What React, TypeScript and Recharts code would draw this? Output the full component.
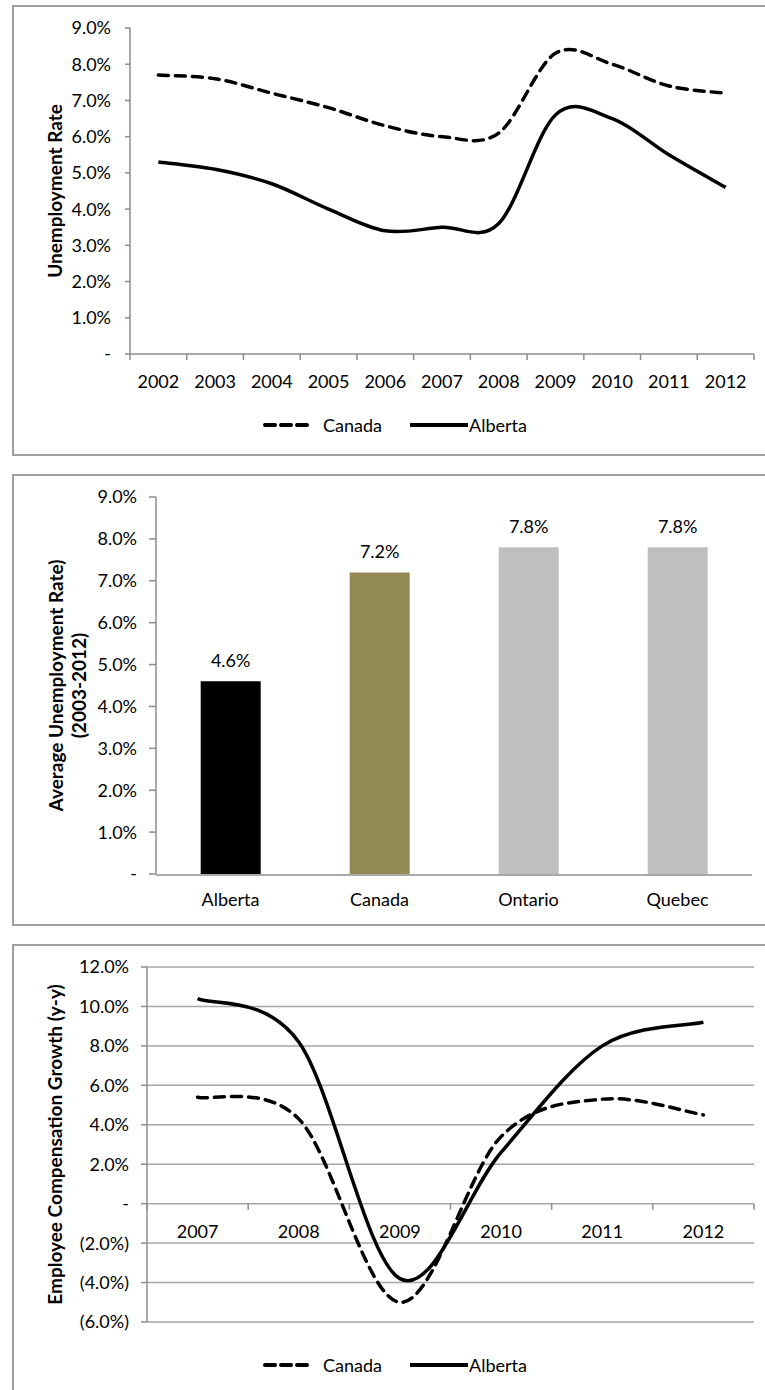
import React from 'react'
import {
  LineChart, Line, BarChart, Bar, Cell, XAxis, YAxis, CartesianGrid, Legend, LabelList, Label,
} from 'recharts'

const FONT = 'Lato, "Open Sans", sans-serif'
const AXIS = '#8c8c8c'
const GRID = '#a6a6a6'
const BORDER = '#a0a0a0'

// chart 1: unemployment rate, 2002-2012
const YEARS_A = ['2002', '2003', '2004', '2005', '2006', '2007', '2008', '2009', '2010', '2011', '2012']
const CANADA_A = [7.7, 7.6, 7.2, 6.8, 6.3, 6.0, 6.1, 8.3, 8.0, 7.4, 7.2]
const ALBERTA_A = [5.3, 5.1, 4.7, 4.0, 3.4, 3.5, 3.6, 6.6, 6.5, 5.5, 4.6]
const RATE_TICKS = [0, 1, 2, 3, 4, 5, 6, 7, 8, 9]

// chart 2: average unemployment rate 2003-2012
const PROVINCES = ['Alberta', 'Canada', 'Ontario', 'Quebec']
const AVG_RATE = [4.6, 7.2, 7.8, 7.8]
const BAR_COLORS = ['#000000', '#948a54', '#bfbfbf', '#bfbfbf']

// chart 3: employee compensation growth (y-y), 2007-2012
const YEARS_C = ['2007', '2008', '2009', '2010', '2011', '2012']
const CANADA_C = [5.4, 4.3, -5.0, 3.4, 5.3, 4.5]
const ALBERTA_C = [10.4, 8.2, -3.8, 2.6, 8.0, 9.2]
const GROWTH_TICKS = [-6, -4, -2, 0, 2, 4, 6, 8, 10, 12]

const rowsA = YEARS_A.map((year, i) => ({ i, year, canada: CANADA_A[i], alberta: ALBERTA_A[i] }))
const rowsB = PROVINCES.map((name, i) => ({ i, name, value: AVG_RATE[i] }))
const rowsC = YEARS_C.map((year, i) => ({ i, year, canada: CANADA_C[i], alberta: ALBERTA_C[i] }))

// ticks at each category centre (labels) and between categories (tick marks)
const slots = (n: number) => Array.from({ length: n }, (_, i) => [i - 0.5, i]).flat().concat(n - 0.5)

const pct = (v: number) => (v === 0 ? '-' : v < 0 ? `(${Math.abs(v).toFixed(1)}%)` : `${v.toFixed(1)}%`)

// Excel-like smoothed line (Catmull-Rom through every point)
const excelSmooth = (context: any) => {
  let pts: number[][] = []
  return {
    areaStart() {},
    areaEnd() {},
    lineStart() { pts = [] },
    point(x: number, y: number) { pts.push([+x, +y]) },
    lineEnd() {
      const n = pts.length
      if (!n) return
      context.moveTo(pts[0][0], pts[0][1])
      for (let k = 0; k < n - 1; k++) {
        const a = pts[Math.max(k - 1, 0)]
        const b = pts[k]
        const c = pts[k + 1]
        const d = pts[Math.min(k + 2, n - 1)]
        context.bezierCurveTo(
          b[0] + (c[0] - a[0]) / 6, b[1] + (c[1] - a[1]) / 6,
          c[0] - (d[0] - b[0]) / 6, c[1] - (d[1] - b[1]) / 6,
          c[0], c[1],
        )
      }
    },
  }
}

const textStyle = { fontFamily: FONT, fontSize: 18, fill: '#000' }

const YearTick = ({ x, y, payload, labels, textY, markY }: any) => {
  const v = payload.value
  if (Number.isInteger(v)) {
    return <text x={x} y={y + textY} textAnchor="middle" {...textStyle}>{labels[v]}</text>
  }
  return <line x1={x} x2={x} y1={y + markY} y2={y + markY + 6} stroke={AXIS} strokeWidth={1.5} />
}

const AxisTitle = ({ viewBox, lines, cx }: any) => {
  const cy = viewBox.y + viewBox.height / 2
  return (
    <text
      transform={`rotate(-90, ${cx}, ${cy})`}
      x={cx}
      y={cy}
      textAnchor="middle"
      dominantBaseline="central"
      fontFamily={FONT}
      fontSize={19}
      fontWeight={700}
      fill="#000"
    >
      {lines.map((l: string, i: number) => (
        <tspan key={i} x={cx} dy={i === 0 ? 0 : 23}>{l}</tspan>
      ))}
    </text>
  )
}

const LineLegend = () => (
  <div style={{ position: 'relative', width: 765, height: 20, fontFamily: FONT, fontSize: 18, color: '#000' }}>
    <svg style={{ position: 'absolute', left: 263, top: 8 }} width={50} height={4}>
      <line x1={2} y1={2} x2={48} y2={2} stroke="#000" strokeWidth={4} strokeDasharray="10 6" strokeLinecap="round" />
    </svg>
    <span style={{ position: 'absolute', left: 323, top: 0, lineHeight: '20px' }}>Canada</span>
    <svg style={{ position: 'absolute', left: 410, top: 8 }} width={58} height={4}>
      <line x1={0} y1={2} x2={58} y2={2} stroke="#000" strokeWidth={4} />
    </svg>
    <span style={{ position: 'absolute', left: 469, top: 0, lineHeight: '20px' }}>Alberta</span>
  </div>
)

const panel = (top: number, height: number): React.CSSProperties => ({
  position: 'absolute', left: 12, top, width: 760, height, border: `2px solid ${BORDER}`, boxSizing: 'border-box',
})

// chart 3 plot geometry, used to put the category labels on the zero line
const C3_PLOT_H = 355
const C3_ZERO = (C3_PLOT_H * (0 - GROWTH_TICKS[0])) / (GROWTH_TICKS[GROWTH_TICKS.length - 1] - GROWTH_TICKS[0])

export default function App() {
  return (
    <div style={{ position: 'absolute', left: 0, top: 0, width: 765, height: 1390, background: '#fff', overflow: 'hidden' }}>
      <div style={panel(5, 451)} />
      <div style={panel(474, 452)} />
      <div style={panel(944, 470)} />

      <div style={{ position: 'absolute', left: 0, top: 0 }}>
        <LineChart width={765} height={456} data={rowsA} margin={{ top: 28, right: 11, bottom: 21, left: 10 }}>
          <XAxis
            dataKey="i"
            type="number"
            domain={[-0.5, YEARS_A.length - 0.5]}
            allowDataOverflow
            ticks={slots(YEARS_A.length)}
            interval={0}
            height={61}
            tickSize={0}
            tickMargin={0}
            tickLine={false}
            axisLine={{ stroke: AXIS, strokeWidth: 1.5 }}
            tick={(p: any) => <YearTick {...p} labels={YEARS_A} textY={34} markY={0} />}
          />
          <YAxis
            width={120}
            domain={[0, 9]}
            ticks={RATE_TICKS}
            interval={0}
            tickFormatter={pct}
            tickSize={5}
            tickMargin={14}
            tick={textStyle}
            tickLine={{ stroke: AXIS, strokeWidth: 1.5 }}
            axisLine={{ stroke: AXIS, strokeWidth: 1.5 }}
          >
            <Label content={(p: any) => <AxisTitle {...p} cx={54} lines={['Unemployment Rate']} />} />
          </YAxis>
          <Legend verticalAlign="bottom" content={() => <LineLegend />} wrapperStyle={{ left: 0, width: 765, height: 20 }} />
          <Line type={excelSmooth as any} dataKey="canada" name="Canada" stroke="#000" strokeWidth={3.5} strokeDasharray="10 7" strokeLinecap="round" dot={false} isAnimationActive={false} />
          <Line type={excelSmooth as any} dataKey="alberta" name="Alberta" stroke="#000" strokeWidth={3.5} dot={false} isAnimationActive={false} />
        </LineChart>
      </div>

      <div style={{ position: 'absolute', left: 0, top: 474 }}>
        <BarChart width={765} height={452} data={rowsB} margin={{ top: 23, right: 13, bottom: 11, left: 10 }} barCategoryGap="30%">
          <XAxis
            dataKey="name"
            height={1}
            interval={0}
            tickSize={0}
            tickMargin={19}
            tickLine={false}
            axisLine={false}
            tick={textStyle}
          />
          <XAxis
            xAxisId="b"
            dataKey="i"
            type="number"
            domain={[0, PROVINCES.length]}
            allowDataOverflow
            ticks={PROVINCES.map((_, i) => i).concat(PROVINCES.length)}
            interval={0}
            height={40}
            tick={false}
            tickSize={7}
            tickLine={{ stroke: AXIS, strokeWidth: 1.5 }}
            axisLine={{ stroke: AXIS, strokeWidth: 1.5 }}
          />
          <YAxis
            width={146}
            domain={[0, 9]}
            ticks={RATE_TICKS}
            interval={0}
            tickFormatter={pct}
            tickSize={7}
            tickMargin={12}
            tick={textStyle}
            tickLine={{ stroke: AXIS, strokeWidth: 1.5 }}
            axisLine={{ stroke: AXIS, strokeWidth: 1.5 }}
          >
            <Label content={(p: any) => <AxisTitle {...p} cx={55} lines={['Average Unemployment Rate)', '(2003-2012)']} />} />
          </YAxis>
          <Bar dataKey="value" isAnimationActive={false}>
            {rowsB.map((_, i) => <Cell key={i} fill={BAR_COLORS[i]} />)}
            <LabelList dataKey="value" position="top" offset={14} formatter={(v: any) => `${Number(v).toFixed(1)}%`} style={textStyle} />
          </Bar>
        </BarChart>
      </div>

      <div style={{ position: 'absolute', left: 0, top: 944 }}>
        <LineChart width={765} height={446} data={rowsC} margin={{ top: 23, right: 11, bottom: 15, left: 10 }}>
          <CartesianGrid horizontal vertical={false} stroke={GRID} strokeWidth={1.5} />
          <XAxis
            dataKey="i"
            type="number"
            domain={[-0.5, YEARS_C.length - 0.5]}
            allowDataOverflow
            ticks={slots(YEARS_C.length)}
            interval={0}
            height={33}
            tickSize={0}
            tickMargin={0}
            tickLine={false}
            axisLine={false}
            tick={(p: any) => <YearTick {...p} labels={YEARS_C} textY={-C3_ZERO + 34} markY={-C3_ZERO} />}
          />
          <YAxis
            width={137}
            domain={[-6, 12]}
            ticks={GROWTH_TICKS}
            interval={0}
            tickFormatter={pct}
            tickSize={6}
            tickMargin={12}
            tick={textStyle}
            tickLine={{ stroke: AXIS, strokeWidth: 1.5 }}
            axisLine={{ stroke: AXIS, strokeWidth: 1.5 }}
          >
            <Label content={(p: any) => <AxisTitle {...p} cx={54} lines={['Employee Compensation Growth (y-y)']} />} />
          </YAxis>
          <Legend verticalAlign="bottom" content={() => <LineLegend />} wrapperStyle={{ left: 0, width: 765, height: 20 }} />
          <Line type={excelSmooth as any} dataKey="canada" name="Canada" stroke="#000" strokeWidth={3.5} strokeDasharray="10 7" strokeLinecap="round" dot={false} isAnimationActive={false} />
          <Line type={excelSmooth as any} dataKey="alberta" name="Alberta" stroke="#000" strokeWidth={3.5} dot={false} isAnimationActive={false} />
        </LineChart>
      </div>
    </div>
  )
}
